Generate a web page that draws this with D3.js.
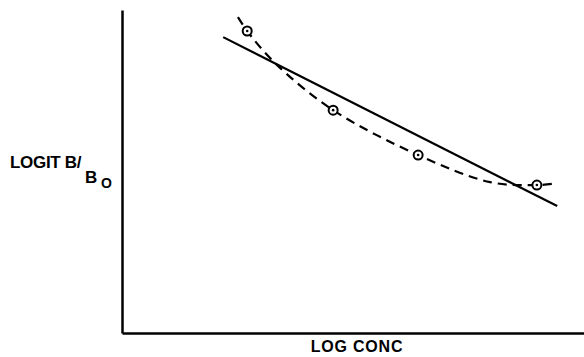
<!DOCTYPE html>
<html>
<head>
<meta charset="utf-8">
<script src="https://cdn.jsdelivr.net/npm/d3@7"></script>
<style>
  body { margin: 0; background: #fff; }
  text { font-family: "Liberation Sans", Arial, sans-serif; font-weight: bold; fill: #000; }
</style>
</head>
<body>
<div id="chart"></div>
<script>
// measured points (log conc, logit B/Bo), arbitrary units 0-10
const pointX = [2.71, 4.57, 6.41, 8.98];
const pointY = [9.35, 6.90, 5.51, 4.58];

// straight-line fit, two ends
const fitX = [2.19, 9.42];
const fitY = [9.16, 3.93];

// dashed curve through the points
const curveX = [2.51, 2.71, 3.31, 4.57, 6.41, 7.97, 8.98, 9.42];
const curveY = [9.78, 9.35, 8.36, 6.90, 5.51, 4.67, 4.58, 4.64];

const width = 584, height = 357;
const margin = { top: 10, right: 0, bottom: 24, left: 122 };

const svg = d3.select("#chart")
  .append("svg")
  .attr("width", width)
  .attr("height", height);

const x = d3.scaleLinear()
  .domain([0, 10])
  .range([margin.left, width - margin.right]);

const y = d3.scaleLinear()
  .domain([0, 10])
  .range([height - margin.bottom, margin.top]);

// axes, no ticks
svg.append("g")
  .attr("transform", `translate(0, ${height - margin.bottom})`)
  .call(d3.axisBottom(x).ticks(0).tickSizeOuter(0))
  .select(".domain")
  .attr("stroke-width", 2.5);

svg.append("g")
  .attr("transform", `translate(${margin.left}, 0)`)
  .call(d3.axisLeft(y).ticks(0).tickSizeOuter(0))
  .select(".domain")
  .attr("stroke-width", 2.5);

// fitted straight line
const fit = fitX.map((d, i) => [d, fitY[i]]);
svg.append("path")
  .datum(fit)
  .attr("fill", "none")
  .attr("stroke", "#000")
  .attr("stroke-width", 2.2)
  .attr("d", d3.line().x(d => x(d[0])).y(d => y(d[1])));

// dashed curve
const curve = curveX.map((d, i) => [d, curveY[i]]);
svg.append("path")
  .datum(curve)
  .attr("fill", "none")
  .attr("stroke", "#000")
  .attr("stroke-width", 2.2)
  .attr("stroke-dasharray", "9,6")
  .attr("d", d3.line().x(d => x(d[0])).y(d => y(d[1])).curve(d3.curveCatmullRom.alpha(0.5)));

// points: circle with a centre dot
const pts = pointX.map((d, i) => [d, pointY[i]]);
svg.selectAll(".pt")
  .data(pts)
  .enter()
  .append("circle")
  .attr("cx", d => x(d[0]))
  .attr("cy", d => y(d[1]))
  .attr("r", 4.5)
  .attr("fill", "#fff")
  .attr("stroke", "#000")
  .attr("stroke-width", 2);

svg.selectAll(".dot")
  .data(pts)
  .enter()
  .append("circle")
  .attr("cx", d => x(d[0]))
  .attr("cy", d => y(d[1]))
  .attr("r", 1.3)
  .attr("fill", "#000");

// axis labels
svg.append("text")
  .attr("x", 357)
  .attr("y", 352)
  .attr("text-anchor", "middle")
  .style("font-size", "16px")
  .style("letter-spacing", "0.8px")
  .text("LOG CONC");

const yl = svg.append("text")
  .attr("x", 10)
  .attr("y", 168)
  .style("font-size", "17px")
  .style("letter-spacing", "-0.3px");
yl.append("tspan").text("LOGIT B/");
yl.append("tspan").attr("x", 85).attr("y", 183).text("B");
yl.append("tspan").attr("x", 101).attr("y", 188).style("font-size", "14px").text("O");
</script>
</body>
</html>
